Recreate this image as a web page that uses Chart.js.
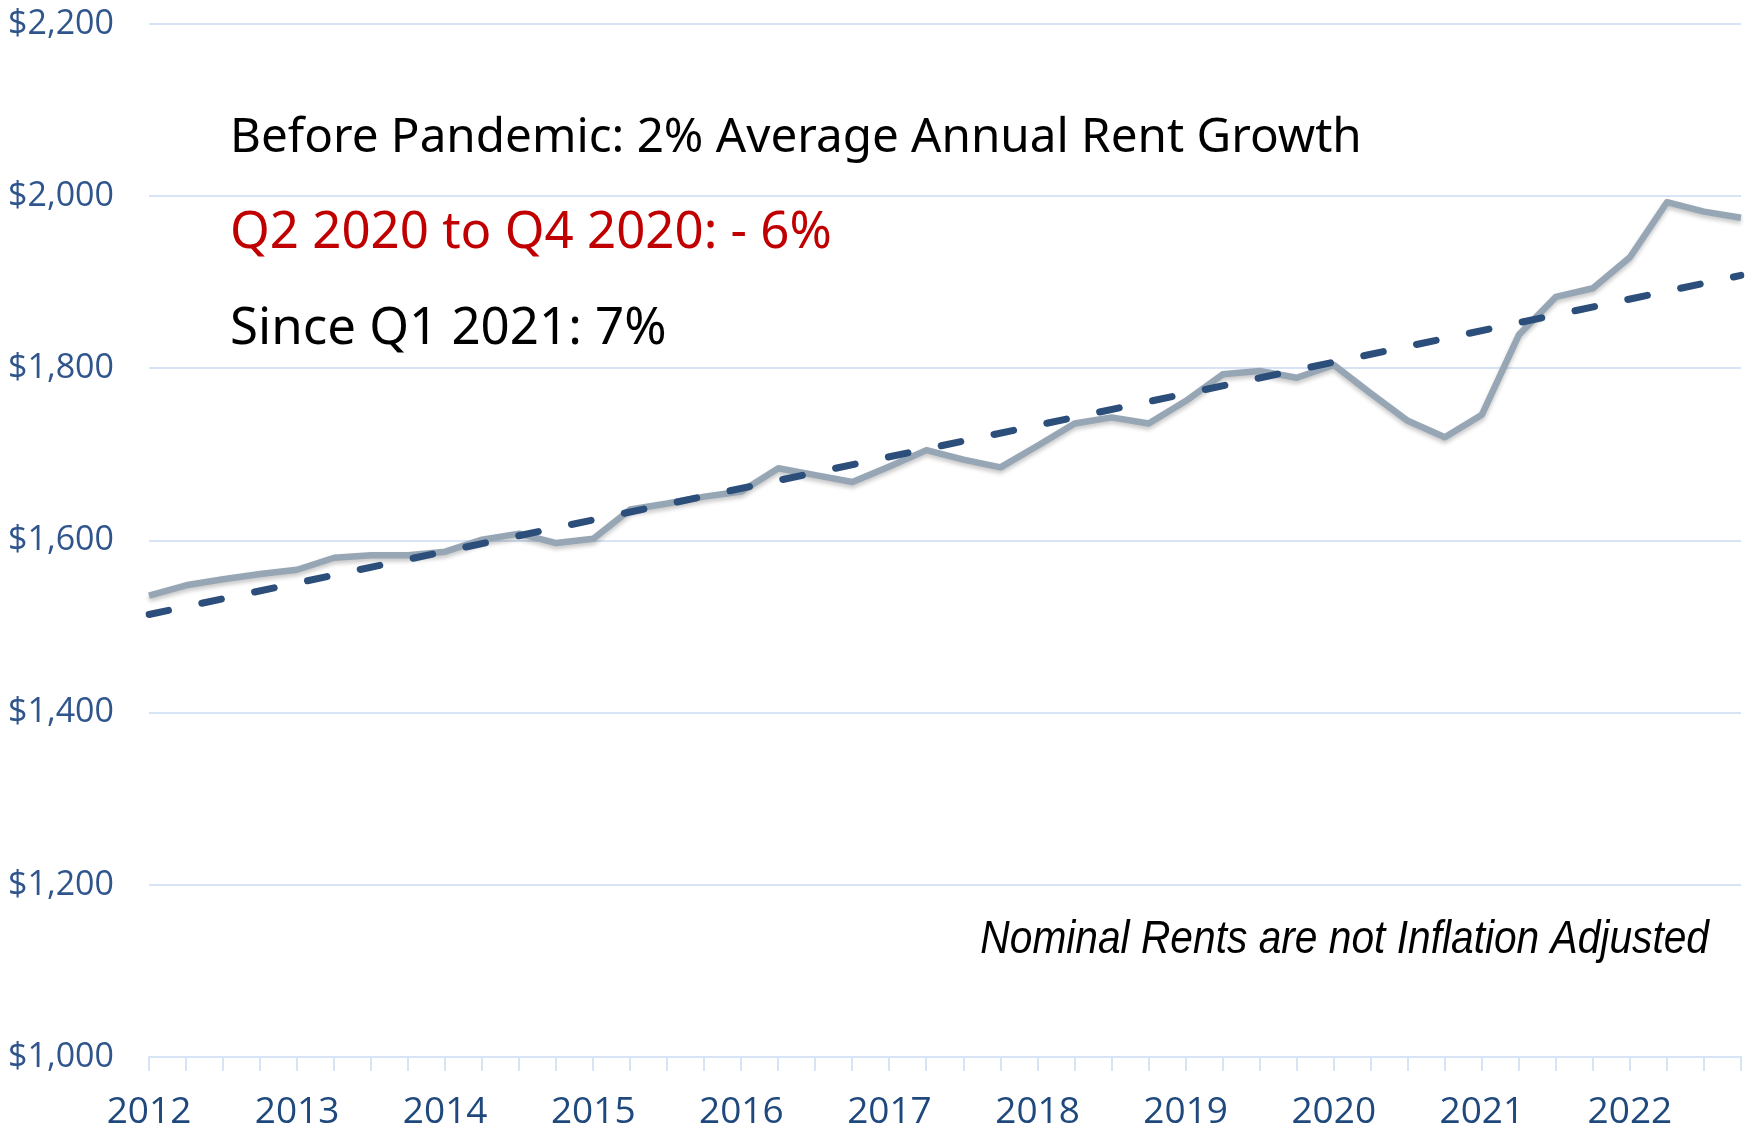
<!DOCTYPE html>
<html>
<head>
<meta charset="utf-8">
<script src="https://cdn.jsdelivr.net/npm/chart.js@4.4.1/dist/chart.umd.min.js"></script>
<style>
  html, body { margin: 0; padding: 0; background: #ffffff; }
  #wrap { width: 1754px; height: 1129px; position: relative; }
</style>
</head>
<body>
<div id="wrap"><canvas id="chart1"></canvas></div>
<script>
// Años y trimestres del eje X
const YEARS = ["2012", "2013", "2014", "2015", "2016", "2017", "2018", "2019", "2020", "2021", "2022"];
const QUARTERS = ["Q1", "Q2", "Q3", "Q4"];

// Renta media nominal por trimestre (2012 Q1 .. 2022 Q4)
const RENT = [
  1536, 1548, 1555, 1561,
  1566, 1580, 1583, 1583,
  1587, 1601, 1608, 1597,
  1602, 1636, 1643, 1651,
  1657, 1684, 1676, 1668,
  1686, 1705, 1694, 1685,
  1710, 1736, 1743, 1736,
  1762, 1793, 1797, 1789,
  1804, 1771, 1739, 1720,
  1746, 1839, 1883, 1893,
  1929, 1993, 1982, 1975,
];

// Línea de tendencia pre-pandemia (extremos)
const TREND_START = 1514;
const TREND_END = 1908;

// Eje Y
const Y_MIN = 1000;
const Y_MAX = 2200;
const Y_STEP = 200;

// Textos
const NOTE_LINES = [
  { text: "Before Pandemic: 2% Average Annual Rent Growth", color: "#000000" },
  { text: "Q2 2020 to Q4 2020: - 6%", color: "#C00000" },
  { text: "Since Q1 2021: 7%", color: "#000000" },
];
const FOOTNOTE = "Nominal Rents are not Inflation Adjusted";

const labels = [];
YEARS.forEach((y) => QUARTERS.forEach((q) => labels.push(y + " " + q)));

const trendData = labels.map((_, i) => {
  if (i === 0) return TREND_START;
  if (i === labels.length - 1) return TREND_END;
  return null;
});

// Sombra suave bajo la línea de rentas
const shadowPlugin = {
  id: "lineShadow",
  beforeDatasetDraw(chart, args) {
    if (args.index !== 1) return;
    const ctx = chart.ctx;
    ctx.save();
    ctx.shadowColor = "rgba(0,0,0,0.22)";
    ctx.shadowBlur = 4;
    ctx.shadowOffsetY = 3;
  },
  afterDatasetDraw(chart, args) {
    if (args.index !== 1) return;
    chart.ctx.restore();
  },
};

// Textos sobre el gráfico
const notesPlugin = {
  id: "notes",
  afterDraw(chart) {
    const ctx = chart.ctx;
    const area = chart.chartArea;
    ctx.save();
    ctx.textBaseline = "middle";
    ctx.textAlign = "left";
    const rows = [138, 233, 329];
    const sizes = [47.6, 51, 51];
    NOTE_LINES.forEach((n, i) => {
      ctx.font = sizes[i] + 'px "Noto Sans"';
      ctx.fillStyle = n.color;
      ctx.fillText(n.text, area.left + 81, rows[i]);
    });
    // nota en cursiva estrecha
    ctx.font = 'italic 46px "Liberation Sans"';
    ctx.fillStyle = "#000000";
    ctx.textAlign = "right";
    ctx.translate(1709, 940);
    ctx.scale(0.885, 1);
    ctx.fillText(FOOTNOTE, 0, 0);
    ctx.restore();
  },
};

const ctx1 = document.getElementById("chart1").getContext("2d");
new Chart(ctx1, {
  type: "line",
  data: {
    labels: labels,
    datasets: [
      {
        label: "Trend",
        data: trendData,
        spanGaps: true,
        borderColor: "#2C4E7A",
        borderWidth: 7,
        borderDash: [20, 34],
        borderCapStyle: "round",
        pointRadius: 0,
        tension: 0,
        order: 0,
      },
      {
        label: "Rent",
        data: RENT,
        borderColor: "#97A6B4",
        borderWidth: 6.5,
        borderJoinStyle: "round",
        pointRadius: 0,
        tension: 0,
        order: 1,
      },
    ],
  },
  options: {
    responsive: true,
    maintainAspectRatio: false,
    animation: false,
    layout: { autoPadding: false, padding: { left: 10, right: 13, top: 24, bottom: 0 } },
    plugins: {
      legend: { display: false },
      tooltip: { enabled: false },
    },
    scales: {
      x: {
        offset: false,
        afterFit: (scale) => {
          scale.height = 72;
          scale.paddingLeft = 0;
          scale.paddingRight = 0;
        },
        grid: {
          drawOnChartArea: false,
          drawTicks: true,
          tickLength: 14,
          color: "#D6E4F5",
          lineWidth: 2,
        },
        border: { display: true, color: "#D6E4F5", width: 2 },
        ticks: {
          autoSkip: false,
          maxRotation: 0,
          padding: 23,
          color: "#1F497D",
          font: { family: "Open Sans", size: 37, lineHeight: 1 },
          callback: (val, i) => (i % 4 === 0 ? YEARS[i / 4] : ""),
        },
      },
      y: {
        min: Y_MIN,
        max: Y_MAX,
        afterFit: (scale) => {
          scale.width = 139;
          scale.paddingTop = 0;
          scale.paddingBottom = 0;
        },
        grid: {
          color: "#D6E4F5",
          lineWidth: 2,
          drawTicks: false,
        },
        border: { display: false },
        ticks: {
          stepSize: Y_STEP,
          padding: 35,
          color: "#2F558C",
          font: { family: "Open Sans", size: 34 },
          callback: (v) => "$" + v.toLocaleString("en-US"),
        },
      },
    },
  },
  plugins: [shadowPlugin, notesPlugin],
});
</script>
</body>
</html>
